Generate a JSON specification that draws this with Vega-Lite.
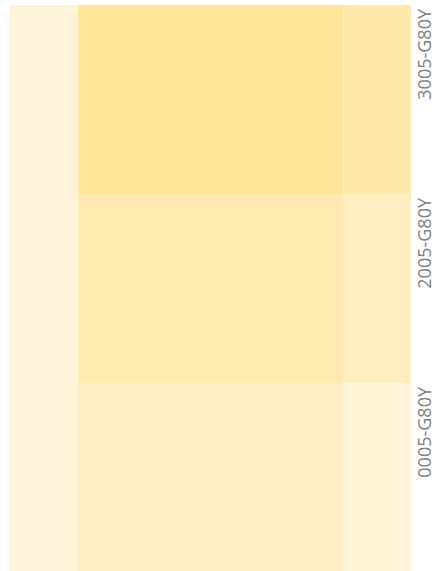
{
  "$schema": "https://vega.github.io/schema/vega-lite/v6.json",
  "width": 401,
  "height": 567,
  "autosize": "none",
  "padding": {"left": 10, "top": 5, "right": 24, "bottom": 0},
  "background": "white",
  "config": {"view": {"stroke": null}},
  "data": {
    "values": [
      {"row": "3005-G80Y", "x0": 0, "x1": 17, "color": "#FFF4DA"},
      {"row": "3005-G80Y", "x0": 17, "x1": 83.2, "color": "#FFE598"},
      {"row": "3005-G80Y", "x0": 83.2, "x1": 100, "color": "#FFE8A9"},
      {"row": "2005-G80Y", "x0": 0, "x1": 17, "color": "#FFF4DA"},
      {"row": "2005-G80Y", "x0": 17, "x1": 83.2, "color": "#FEEAB0"},
      {"row": "2005-G80Y", "x0": 83.2, "x1": 100, "color": "#FEEDC0"},
      {"row": "0005-G80Y", "x0": 0, "x1": 17, "color": "#FFF4DA"},
      {"row": "0005-G80Y", "x0": 17, "x1": 83.2, "color": "#FDEFC3"},
      {"row": "0005-G80Y", "x0": 83.2, "x1": 100, "color": "#FFF3D8"}
    ]
  },
  "mark": {"type": "rect"},
  "encoding": {
    "x": {"field": "x0", "type": "quantitative", "scale": {"domain": [0, 100], "nice": false, "zero": false}, "axis": null},
    "x2": {"field": "x1"},
    "y": {
      "field": "row",
      "type": "nominal",
      "sort": ["3005-G80Y", "2005-G80Y", "0005-G80Y"],
      "scale": {"paddingInner": 0, "paddingOuter": 0},
      "axis": {
        "orient": "right",
        "title": null,
        "ticks": false,
        "domain": false,
        "labelAngle": -90,
        "labelAlign": "right",
        "labelBaseline": "top",
        "labelOffset": -90.5,
        "labelPadding": 5,
        "labelFont": "Open Sans",
        "labelFontSize": 18,
        "labelColor": "#808080"
      }
    },
    "color": {"field": "color", "type": "nominal", "scale": null}
  }
}
